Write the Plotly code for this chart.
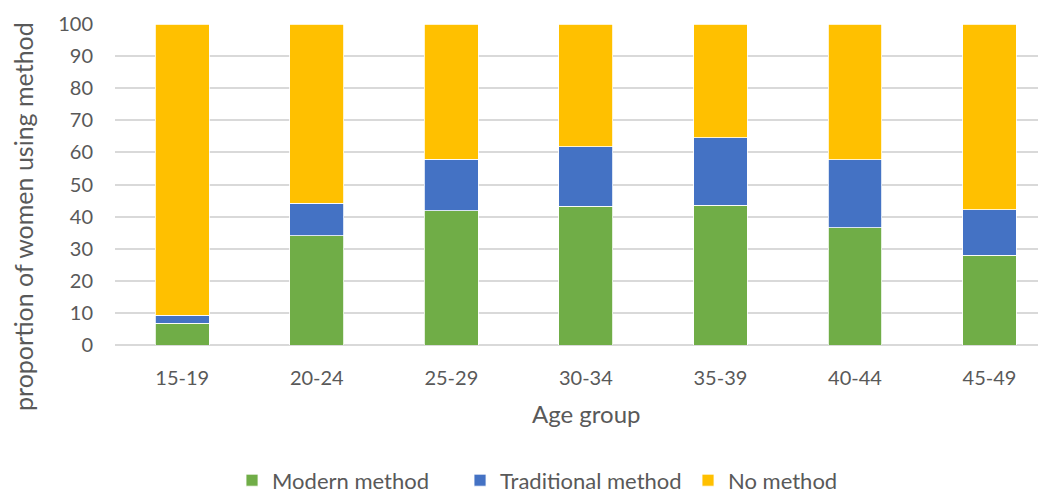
import plotly.graph_objects as go

categories = ["15-19", "20-24", "25-29", "30-34", "35-39", "40-44", "45-49"]
modern = [6.7, 34.1, 41.9, 43.2, 43.5, 36.6, 27.9]
traditional = [2.6, 10.0, 15.9, 18.5, 21.0, 21.1, 14.2]
no_method = [round(100 - m - t, 1) for m, t in zip(modern, traditional)]
y_ticks = [0, 10, 20, 30, 40, 50, 60, 70, 80, 90, 100]

FONT = "Lato"
GREY = "#595959"

fig = go.Figure()
series = [
    ("Modern method", modern, "#70AD47"),
    ("Traditional method", traditional, "#4472C4"),
    ("No method", no_method, "#FFC000"),
]
for name, vals, col in series:
    fig.add_trace(go.Bar(
        x=categories, y=vals, name=name,
        marker=dict(color=col, line=dict(color="white", width=0.8)),
        width=0.4,
    ))

# page body has an 8px default margin, so the figure is drawn 8px smaller
fig.update_layout(
    barmode="stack",
    width=1038, height=487,
    margin=dict(l=107, r=0, t=16, b=150),
    paper_bgcolor="white", plot_bgcolor="white",
    font=dict(family=FONT, size=20, color=GREY),
    showlegend=True,
    legend=dict(orientation="h", xref="paper", x=0.1257, xanchor="left",
                yref="container", y=0.03, yanchor="middle",
                font=dict(size=22, color=GREY), traceorder="normal",
                itemwidth=30, tracegroupgap=0, entrywidth=183),
    xaxis=dict(range=[-0.5, 6.42], showgrid=False, showline=False, zeroline=False,
               automargin=False,
               ticks="outside", ticklen=15, tickcolor="rgba(0,0,0,0)",
               tickfont=dict(size=20, color=GREY)),
    yaxis=dict(range=[0, 100], tickvals=y_ticks, showgrid=True, gridcolor="#d9d9d9",
               gridwidth=1.5, zeroline=True, zerolinecolor="#d9d9d9", zerolinewidth=1.5,
               automargin=False,
               showline=False, ticks="outside", ticklen=17, tickcolor="rgba(0,0,0,0)",
               tickfont=dict(size=20, color=GREY)),
    annotations=[
        dict(text="Age group", x=0.506, xref="paper", y=-0.212, yref="paper",
             showarrow=False, font=dict(size=24, color=GREY),
             xanchor="center", yanchor="middle"),
        dict(text="proportion of women using method", x=0, xref="paper", xshift=-92,
             y=0.399, yref="paper", showarrow=False, textangle=-90,
             font=dict(size=25, color=GREY), xanchor="center", yanchor="middle"),
    ],
)
fig.write_html("out.html")
